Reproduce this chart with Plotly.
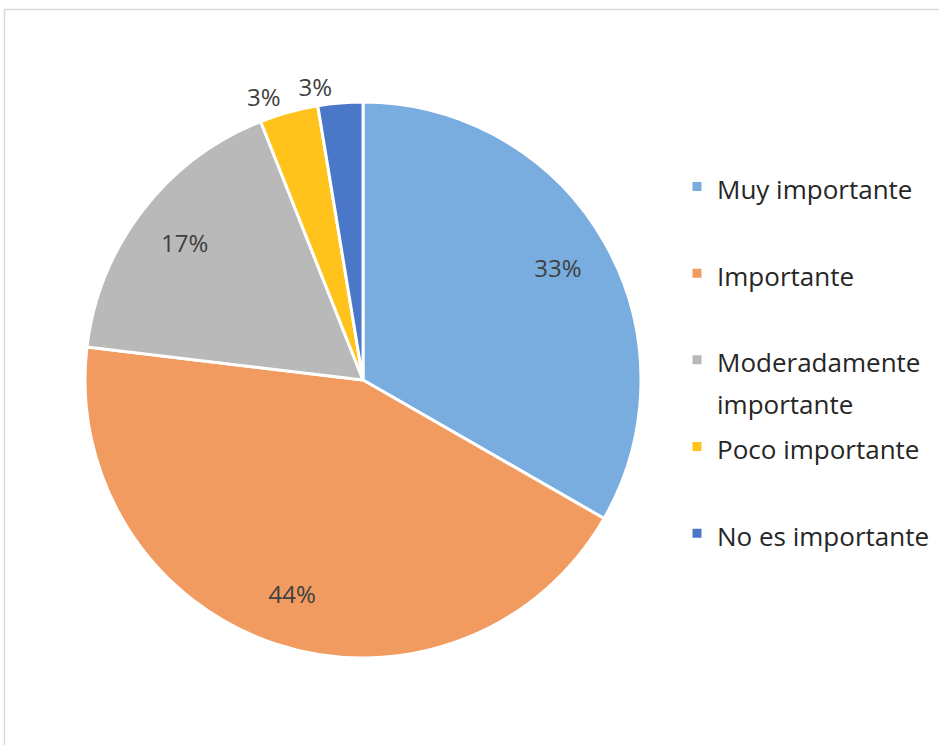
import plotly.graph_objects as go

# Survey answers and their share of responses (%)
categories = ["Muy importante", "Importante", "Moderadamente importante",
              "Poco importante", "No es importante"]
legend_labels = ["Muy importante", "Importante", "Moderadamente<br>importante",
                 "Poco importante", "No es importante"]
shares = [33.3, 43.6, 17.1, 3.4, 2.6]
slice_colors = ["#79ADDF", "#F19B60", "#B9B9B9", "#FFC31C", "#4A77C7"]

W, H = 939, 745
BASE_FONT = 32.2   # sets the legend row pitch
TEXT_FONT = 26     # visible legend text size
LABEL_FONT = dict(family="Open Sans", size=24, color="#404040")
DOMAIN = dict(x=[85 / W, 641 / W], y=[1 - 658 / H, 1 - 102 / H])
CLEAR = ["rgba(0,0,0,0)"] * len(shares)


def legend_entry(label):
    lines = label.split("<br>")
    if len(lines) == 1:
        lines.append("\u00a0")
    return "<br>".join(f"<span style='font-size:{TEXT_FONT}px'>{ln}</span>" for ln in lines)


common = dict(values=shares, sort=False, direction="clockwise", rotation=0, domain=DOMAIN)

fig = go.Figure()

# the pie itself (no text)
fig.add_trace(go.Pie(
    labels=[legend_entry(l) for l in legend_labels],
    marker=dict(colors=slice_colors, line=dict(color="white", width=3)),
    textinfo="none",
    hovertext=categories,
    hoverinfo="text+percent",
    **common,
))

# transparent ring carrying the percentage labels of the large slices
fig.add_trace(go.Pie(
    labels=categories,
    hole=0.62,
    marker=dict(colors=CLEAR, line=dict(width=0)),
    texttemplate="%{percent:.0%}",
    textposition=["inside", "inside", "inside", "none", "none"],
    insidetextorientation="horizontal",
    textfont=LABEL_FONT,
    hoverinfo="skip",
    showlegend=False,
    **common,
))

# outside labels for the two small slices, one trace each so they keep their own spot
for idx in (3, 4):
    pos = ["none"] * len(shares)
    pos[idx] = "outside"
    fig.add_trace(go.Pie(
        labels=categories,
        marker=dict(colors=CLEAR, line=dict(width=0)),
        texttemplate="%{percent:.0%}",
        textposition=pos,
        outsidetextfont=LABEL_FONT,
        hoverinfo="skip",
        showlegend=False,
        **common,
    ))

# light frame around the chart area
fig.add_shape(type="rect", xref="paper", yref="paper",
              x0=4.5 / W, x1=1.05, y0=-0.05, y1=1 - 9.5 / H,
              line=dict(color="#D9D9D9", width=1.5), fillcolor="rgba(0,0,0,0)")

fig.update_layout(
    width=W, height=H,
    margin=dict(l=0, r=0, t=0, b=0),
    paper_bgcolor="white",
    font=dict(family="Open Sans", color="#262626"),
    showlegend=True,
    legend=dict(
        x=677 / W, xanchor="left",
        y=1 - 159 / H, yanchor="top",
        valign="top",
        font=dict(size=BASE_FONT, family="Open Sans", color="#262626"),
        bgcolor="rgba(0,0,0,0)",
        itemwidth=30,
    ),
)

fig.write_html("out.html")
